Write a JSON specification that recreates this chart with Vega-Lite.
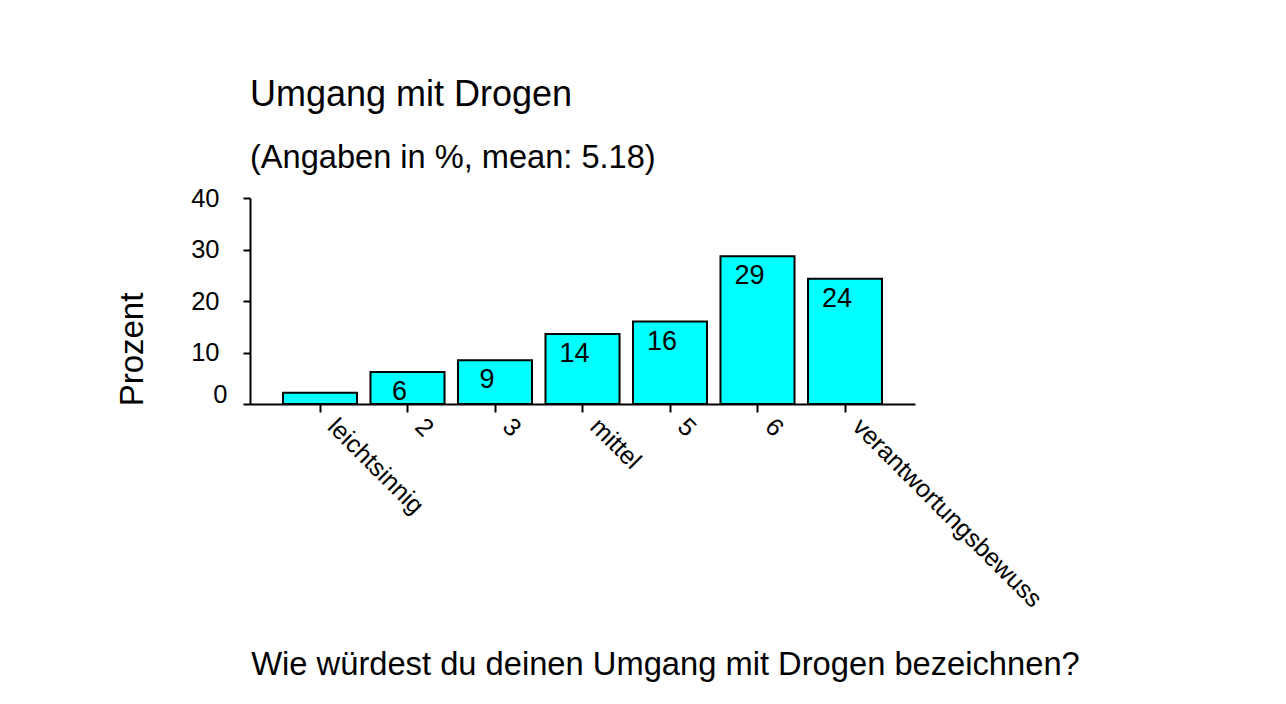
{
  "$schema": "https://vega.github.io/schema/vega-lite/v6.json",
  "width": 665,
  "height": 206,
  "autosize": {"type": "none"},
  "padding": {"left": 250, "top": 198, "right": 371, "bottom": 300},
  "background": "white",
  "config": {"view": {"stroke": null}, "font": "Liberation Sans"},
  "title": {
    "text": "Umgang mit Drogen",
    "subtitle": "(Angaben in %, mean: 5.18)",
    "anchor": "start",
    "frame": "group",
    "font": "Liberation Sans",
    "subtitleFont": "Liberation Sans",
    "fontSize": 36,
    "fontWeight": "normal",
    "subtitleFontSize": 32.6,
    "subtitlePadding": 28,
    "offset": 10,
    "color": "black",
    "subtitleColor": "black"
  },
  "data": {
    "values": [
      {"kategorie": "leichtsinnig", "prozent": 2.2, "label": null},
      {"kategorie": "2", "prozent": 6.2, "label": "6"},
      {"kategorie": "3", "prozent": 8.5, "label": "9"},
      {"kategorie": "mittel", "prozent": 13.6, "label": "14"},
      {"kategorie": "5", "prozent": 16.0, "label": "16"},
      {"kategorie": "6", "prozent": 28.7, "label": "29"},
      {"kategorie": "verantwortungsbewuss", "prozent": 24.3, "label": "24"}
    ]
  },
  "encoding": {
    "x": {
      "field": "kategorie",
      "type": "nominal",
      "sort": null,
      "scale": {"paddingInner": 0.154, "paddingOuter": 0.377},
      "axis": {
        "title": "Wie würdest du deinen Umgang mit Drogen bezeichnen?",
        "titleFont": "Liberation Sans",
        "titleFontSize": 32.7,
        "titleFontWeight": "normal",
        "titleColor": "black",
        "titleX": 415,
        "titleY": 270,
        "titleAlign": "center",
        "titleBaseline": "alphabetic",
        "labelAngle": 45,
        "labelAlign": "left",
        "labelBaseline": "middle",
        "labelFont": "Liberation Sans",
        "labelFontSize": 25,
        "labelColor": "black",
        "labelPadding": 10,
        "labelOffset": 12,
        "labelOverlap": false,
        "labelLimit": 0,
        "domainColor": "black",
        "domainWidth": 2,
        "tickColor": "black",
        "tickWidth": 2,
        "tickSize": 8
      }
    },
    "y": {
      "field": "prozent",
      "type": "quantitative",
      "scale": {"domain": [0, 40], "nice": false},
      "axis": {
        "title": "Prozent",
        "titleFont": "Liberation Sans",
        "titleFontSize": 33,
        "titleFontWeight": "normal",
        "titleColor": "black",
        "titleAngle": -90,
        "titleX": -108,
        "titleY": 151,
        "titleAlign": "center",
        "titleBaseline": "alphabetic",
        "values": [0, 10, 20, 30, 40],
        "grid": false,
        "labelFont": "Liberation Sans",
        "labelFontSize": 25.5,
        "labelColor": "black",
        "labelPadding": {"condition": {"test": "datum.value === 0", "value": 16}, "value": 24},
        "labelOffset": {"condition": {"test": "datum.value === 0", "value": -10}, "value": 0},
        "domainColor": "black",
        "domainWidth": 2,
        "tickColor": "black",
        "tickWidth": 2,
        "tickSize": 7
      }
    }
  },
  "layer": [
    {
      "mark": {"type": "bar", "fill": "#00FFFF", "stroke": "black", "strokeWidth": 2}
    },
    {
      "transform": [{"filter": "datum.label != null"}],
      "mark": {"type": "text", "baseline": "top", "align": "center", "dy": 7, "dx": -8, "fontSize": 27, "font": "Liberation Sans", "color": "black"},
      "encoding": {"text": {"field": "label", "type": "nominal"}}
    }
  ]
}
